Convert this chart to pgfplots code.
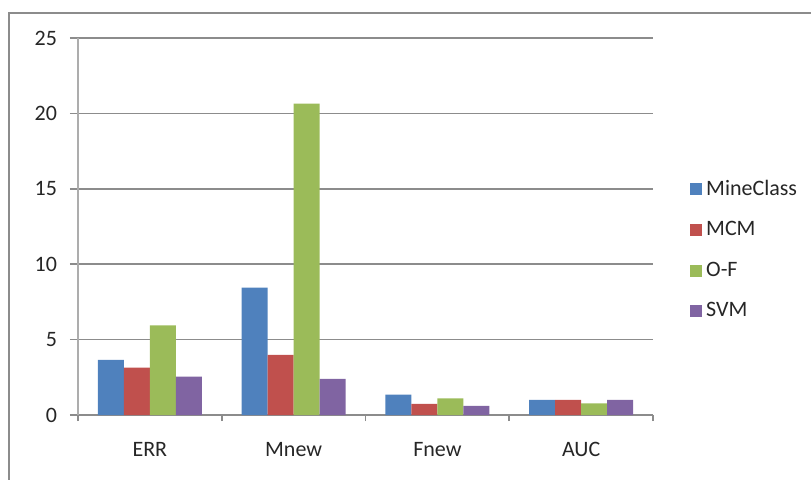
\documentclass[border=0pt]{standalone}
\usepackage{fontspec}
\setmainfont{Carlito}
\usepackage{pgfplots}
\pgfplotsset{compat=1.18}
\definecolor{cA}{HTML}{4F81BD}
\definecolor{cB}{HTML}{C0504D}
\definecolor{cC}{HTML}{9BBB59}
\definecolor{cD}{HTML}{8064A2}
\definecolor{gridc}{HTML}{8C8C8C}
\definecolor{axc}{HTML}{ADADAD}
\begin{document}
\begin{tikzpicture}
\useasboundingbox (0,0) rectangle (405.5pt,239.5pt);
\draw[color=gridc, line width=1.2pt] (4.6pt,-3pt) -- (4.6pt,233pt) -- (410pt,233pt);
\begin{axis}[
  at={(39pt,32pt)}, anchor=south west,
  scale only axis, width=287.5pt, height=188.5pt,
  xmin=-0.5, xmax=3.5, ymin=0, ymax=25,
  ybar=0pt, bar width=13pt,
  xtick={0,1,2,3}, xticklabels={ERR,Mnew,Fnew,AUC},
  minor xtick={-0.5,0.5,1.5,2.5,3.5},
  ytick={0,5,10,15,20,25},
  axis x line*=bottom, axis y line*=left,
  tick align=outside,
  major tick length=4pt, minor tick length=3pt,
  major x tick style={draw=none},
  minor x tick style={color=gridc, line width=0.8pt},
  major y tick style={color=gridc, line width=0.8pt},
  ymajorgrids, grid style={color=gridc, line width=0.8pt},
  x axis line style={color=gridc, line width=1pt, -},
  y axis line style={color=axc, line width=1pt, -},
  ticklabel style={font=\fontsize{11}{13}\selectfont, text=black!85},
  xticklabel style={yshift=-6pt},
  yticklabel style={xshift=-3pt},
  /pgf/number format/assume math mode=true,
  legend style={at={(1.064,0.438)}, anchor=west, draw=none, fill=none,
    font=\fontsize{11}{13}\selectfont, text=black!85, row sep=7.5pt,
    inner sep=0pt},
  legend cell align=left,
  legend image code/.code={\fill[#1] (-1pt,-3pt) rectangle (5pt,3pt);},
]
\addplot[fill=cA, draw=none] coordinates {(0,3.65) (1,8.45) (2,1.35) (3,1.0)};
\addplot[fill=cB, draw=none] coordinates {(0,3.15) (1,3.98) (2,0.73) (3,1.0)};
\addplot[fill=cC, draw=none] coordinates {(0,5.95) (1,20.65) (2,1.10) (3,0.77)};
\addplot[fill=cD, draw=none] coordinates {(0,2.54) (1,2.39) (2,0.60) (3,1.0)};
\legend{MineClass,MCM,O-F,SVM}
\end{axis}
\end{tikzpicture}
\end{document}
